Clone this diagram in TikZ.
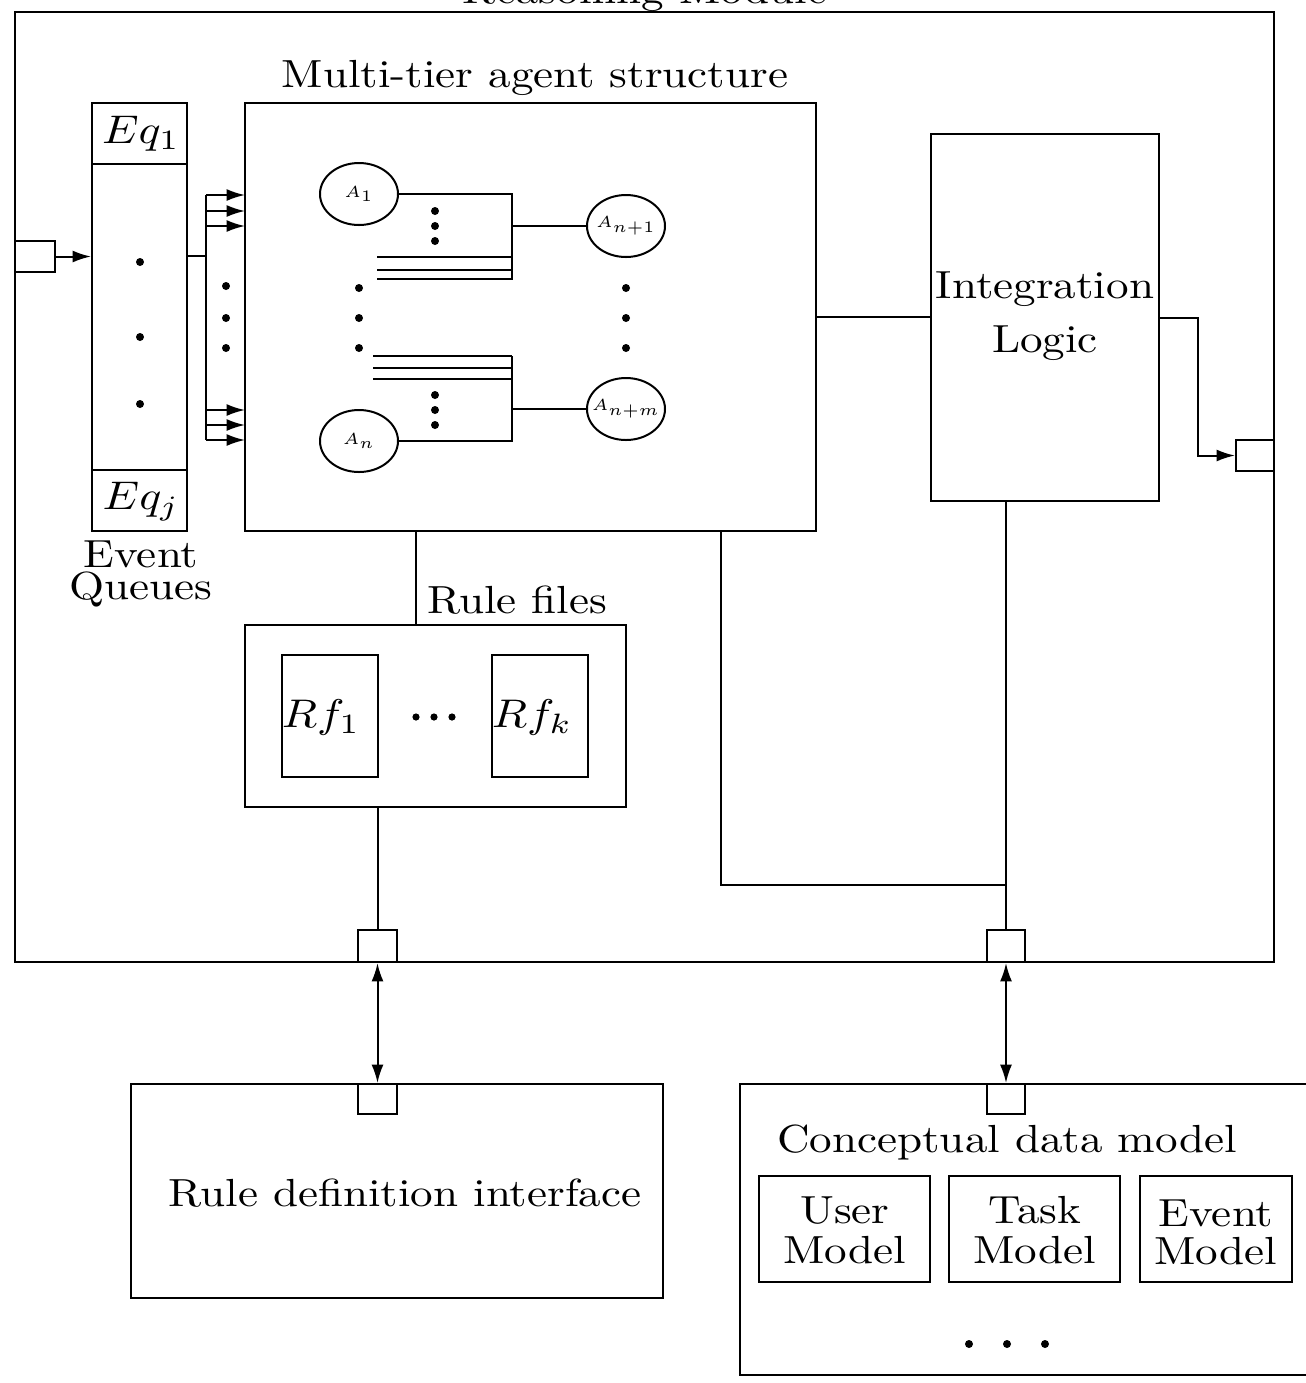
\documentclass[tikz,border=0pt]{standalone}
\usepackage{fontspec}
\setmainfont{lmroman10-regular.otf}[FakeStretch=1.15]
\usepackage{graphicx}
\usetikzlibrary{arrows.meta,fit,shapes.geometric}
% math set with the same horizontal stretch as the text font
\newcommand{\stm}[1]{\scalebox{1.15}[1]{$#1$}}
% small agent labels inside the ellipses (zero width, so every ellipse keeps one size)
\newcommand{\agt}[1]{\makebox[0pt]{\scalebox{0.8}[0.8]{$#1$}}}

\begin{document}
\begin{tikzpicture}[
  x=0.25pt, y=-0.25pt,
  every node/.style={font=\fontsize{9.8}{12}\selectfont, inner sep=0pt},
  box/.style={draw, line width=0.5pt, inner sep=0pt},
  agent/.style={draw, ellipse, line width=0.5pt, minimum width=19.5pt,
                minimum height=15.5pt, inner sep=0pt, font=\tiny},
  wire/.style={line width=0.5pt},
  arr/.style={wire, -{Latex[length=4.6pt,width=3pt]}},
  darr/.style={wire, {Latex[length=4.6pt,width=3pt]}-{Latex[length=4.6pt,width=3pt]}},
  dot/.style={fill=black},
]
\path[use as bounding box, clip] (0,0) rectangle (1306,1383);

% ---------- reasoning module frame ----------
\node[box, fit={(15,12) (1274,962)}] (rm) {};
\node[anchor=base] (rmtitle) at (645,3) {Reasoning Module};

% ---------- event queues ----------
\node[box, fit={(15,241) (55,272)}] (inport) {};
\node[box, fit={(92,103) (187,164)}] (eq1) {};
\node[box, fit={(92,164) (187,470)}] (eqm) {};
\node[box, fit={(92,470) (187,531)}] (eqj) {};
\node (eq1txt) at (141,134) {\stm{Eq_1}};
\node (eqjtxt) at (141,502) {\stm{Eq_j}};
\node[align=center, font=\fontsize{9.8}{8.2}\selectfont] (eqlbl) at (141,574) {Event\\Queues};
\foreach \y in {262,337,404} \fill[dot] (140,\y) circle[radius=4];

\draw[arr] (inport.east) -- (inport.east -| eqm.west);

% fan-out into the agent structure
\coordinate (fan)  at (206,256);
\coordinate (fanT) at (206,195);
\coordinate (fanB) at (206,440);
\draw[wire] (eqm.east |- fan) -- (fan);
\draw[wire] (fanT) -- (fanB);
\foreach \y in {195,211,226,410,425,440} \draw[arr] (fan |- 0,\y) -- (245,\y);
\foreach \y in {286,318,348} \fill[dot] (226,\y) circle[radius=4];

% ---------- multi-tier agent structure ----------
\node[box, fit={(245,103) (816,531)}] (mt) {};
\node[anchor=base] (mtlbl) at (535,87) {Multi-tier agent structure};

\node[agent] (a1)  at (359,194) {\agt{A_1}};
\node[agent] (an)  at (359,441) {\agt{A_n}};
\node[agent] (an1) at (626,226) {\agt{A_{n+1}}};
\node[agent] (anm) at (626,409) {\agt{A_{n+m}}};

% upper tier bus
\coordinate (bu)  at (512,226);
\coordinate (buB) at (512,280);
\draw[wire] (a1.east) -- (a1.east -| bu) -- (buB);
\draw[wire] (bu) -- (an1.west);
\foreach \y in {257,270,279} \draw[wire] (377,\y) -- (bu |- 0,\y);
\foreach \y in {211,226,241} \fill[dot] (435,\y) circle[radius=4];

% lower tier bus
\coordinate (bl)  at (512,409);
\coordinate (blT) at (512,356);
\draw[wire] (an.east) -- (an.east -| bl) -- (blT);
\draw[wire] (bl) -- (anm.west);
\foreach \y in {356,368,379} \draw[wire] (373,\y) -- (bl |- 0,\y);
\foreach \y in {395,410,425} \fill[dot] (435,\y) circle[radius=4];

\foreach \y in {288,318,348} {
  \fill[dot] (359,\y) circle[radius=4];
  \fill[dot] (626,\y) circle[radius=4];
}

% ---------- integration logic ----------
\node[box, fit={(931,134) (1159,501)}] (il) {};
\node[align=center, font=\fontsize{9.8}{13.5}\selectfont] (iltxt) at (1045,316) {Integration\\Logic};
\node[box, fit={(1236,440) (1274,471)}] (outport) {};
\draw[wire] (mt.east) -- (mt.east -| il.west);
\draw[arr] (il.east) -- ++(38,0) |- (outport.west);

% ---------- rule files ----------
\node[box, fit={(245,625) (626,807)}] (rf) {};
\node[anchor=base] (rflbl) at (517,613) {Rule files};
\node[box, fit={(282,655) (378,777)}] (rf1) {};
\node[box, fit={(492,655) (588,777)}] (rfk) {};
\node (rf1txt) at (321,717) {\stm{Rf_1}};
\node (rfktxt) at (532,717) {\stm{Rf_k}};
\foreach \x in {416,434,452} \fill[dot] (\x,717) circle[radius=3.6];

\coordinate (rftap) at (416,580);
\draw[wire] (mt.south -| rftap) -- (rf.north -| rftap);

% ---------- ports on the module frame ----------
\node[box, fit={(358,930) (397,962)}] (p1) {};
\node[box, fit={(987,930) (1025,962)}] (p2) {};
\draw[wire] (rf.south -| p1.north) -- (p1.north);
\draw[wire] (p2.north |- il.south) -- (p2.north);
\coordinate (jn) at (721,885);
\draw[wire] (mt.south -| jn) -- (jn) -- (jn -| p2.north);

% ---------- rule definition interface ----------
\node[box, fit={(131,1084) (663,1298)}] (rdi) {};
\node[box, fit={(358,1084) (397,1114)}] (p3) {};
\node[anchor=base] (rditxt) at (405,1206) {Rule definition interface};
\draw[darr] (p1.south) -- (p3.north);

% ---------- conceptual data model ----------
\coordinate (cdmTR) at (1306,1084);
\coordinate (cdmTL) at (740,1084);
\coordinate (cdmBL) at (740,1375);
\coordinate (cdmBR) at (1306,1375);
\draw[wire] (cdmTR) -- (cdmTL) -- (cdmBL) -- (cdmBR);
\node[box, fit={(987,1084) (1025,1114)}] (p4) {};
\draw[darr] (p2.south) -- (p4.north);
\node[anchor=base] (cdmlbl) at (1007,1152) {Conceptual data model};
\node[box, fit={(759,1176) (930,1282)}] (um) {};
\node[box, fit={(949,1176) (1120,1282)}] (tm) {};
\node[box, fit={(1140,1176) (1292,1282)}] (em) {};
\node[align=center, font=\fontsize{9.8}{10}\selectfont] (umtxt) at (845,1230) {User\\Model};
\node[align=center, font=\fontsize{9.8}{10}\selectfont] (tmtxt) at (1035,1230) {Task\\Model};
\node[align=center, font=\fontsize{9.8}{9.5}\selectfont] (emtxt) at (1216,1232) {Event\\Model};
\foreach \x in {969,1007,1045} \fill[dot] (\x,1344) circle[radius=4];
\end{tikzpicture}
\end{document}
